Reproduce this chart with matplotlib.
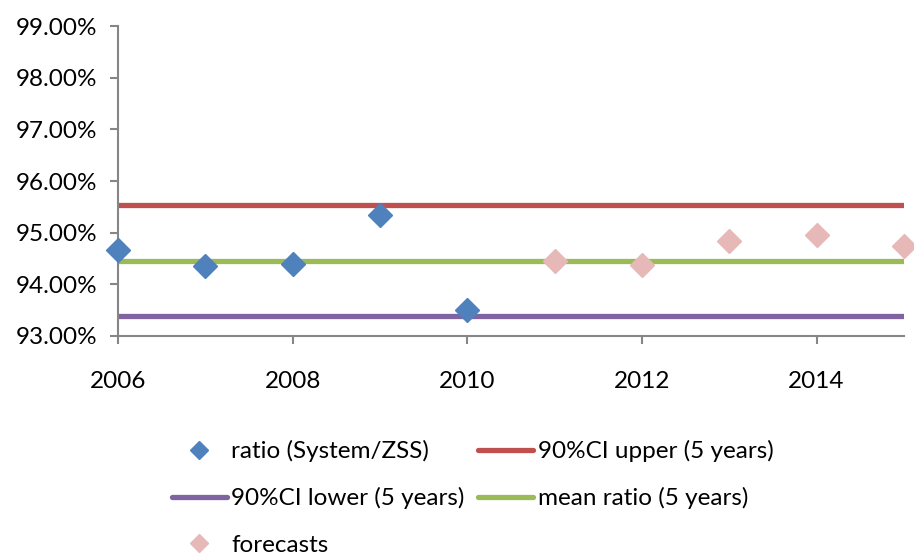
import matplotlib
matplotlib.use("Agg")
import matplotlib.pyplot as plt
from matplotlib.ticker import FuncFormatter
from matplotlib.lines import Line2D

plt.rcParams['font.family'] = ['Lato', 'DejaVu Sans']

# data
ratio_years = [2006, 2007, 2008, 2009, 2010]
ratio_vals = [94.66, 94.35, 94.40, 95.34, 93.50]
fc_years = [2011, 2012, 2013, 2014, 2015]
fc_vals = [94.46, 94.37, 94.84, 94.96, 94.75]
ci_upper = 95.53
ci_lower = 93.39
mean_ratio = 94.45
line_span = [2006, 2015]

fig = plt.figure(figsize=(9.14, 5.57), dpi=100)
ax = fig.add_axes([0.129, 0.397, 0.860, 0.556])

ax.plot(line_span, [ci_upper] * 2, color='#C0504D', lw=3.8, solid_capstyle='round', zorder=2)
ax.plot(line_span, [ci_lower] * 2, color='#8064A2', lw=3.8, solid_capstyle='round', zorder=2)
ax.plot(line_span, [mean_ratio] * 2, color='#9BBB59', lw=3.8, solid_capstyle='round', zorder=2)
ax.plot(ratio_years, ratio_vals, ls='none', marker='D', ms=12, color='#4F81BD', zorder=3, clip_on=False)
ax.plot(fc_years, fc_vals, ls='none', marker='D', ms=12, color='#E6B9B8', zorder=3, clip_on=False)

ax.set_xlim(2006, 2015)
ax.set_ylim(93, 99)
ax.set_xticks([2006, 2008, 2010, 2012, 2014])
ax.set_yticks([93, 94, 95, 96, 97, 98, 99])
ax.yaxis.set_major_formatter(FuncFormatter(lambda v, p: f"{v:.2f}%"))

for s in ['top', 'right']:
    ax.spines[s].set_visible(False)
for s in ['left', 'bottom']:
    ax.spines[s].set_color('#868686')
    ax.spines[s].set_linewidth(1.5)
ax.tick_params(axis='both', colors='#868686', width=1.5, length=6, labelcolor='black', labelsize=17.5)
ax.tick_params(axis='y', pad=9)
ax.tick_params(axis='x', pad=19)

h_ratio = Line2D([], [], ls='none', marker='D', ms=9, color='#4F81BD')
h_up = Line2D([], [], color='#C0504D', lw=3.8, solid_capstyle='round')
h_lo = Line2D([], [], color='#8064A2', lw=3.8, solid_capstyle='round')
h_mean = Line2D([], [], color='#9BBB59', lw=3.8, solid_capstyle='round')
h_fc = Line2D([], [], ls='none', marker='D', ms=9, color='#E6B9B8')

fig.legend([h_ratio, h_lo, h_fc, h_up, h_mean],
           ['ratio (System/ZSS)', '90%CI lower (5 years)', 'forecasts',
            '90%CI upper (5 years)', 'mean ratio (5 years)'],
           ncol=2, loc='upper left', bbox_to_anchor=(0.188, 0.21),
           frameon=False, fontsize=17.5, handlelength=2.25,
           handletextpad=0.2, columnspacing=0.55, labelspacing=1.04,
           borderaxespad=0, borderpad=0)

fig.savefig('out.png', dpi=100)
